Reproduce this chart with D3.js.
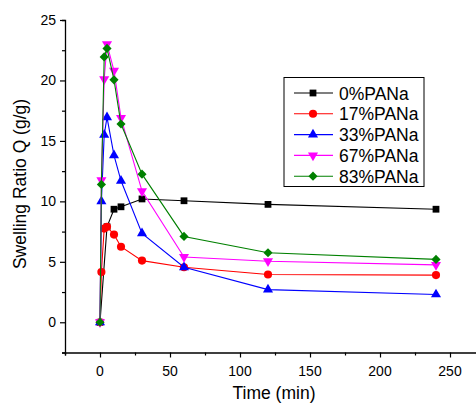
<!DOCTYPE html>
<html>
<head>
  <meta charset="utf-8">
  <title>Swelling Ratio</title>
  <script src="https://d3js.org/d3.v7.min.js"></script>
  <style>
    body { margin: 0; background: #fff; }
    svg { display: block; }
    text { font-family: "Liberation Sans", Arial, sans-serif; fill: #000; }
  </style>
</head>
<body>
  <div id="chart"></div>
  <script>
    // data
    var seriesNames = ["0%PANa", "17%PANa", "33%PANa", "67%PANa", "83%PANa"];
    var colors = ["#000000", "#ff0000", "#0000ff", "#ff00ff", "#008000"];

    var t0 = [0, 5, 10, 15, 30, 60, 120, 240];
    var q0 = [0, 7.9, 9.35, 9.55, 10.2, 10.05, 9.75, 9.35];

    var tAll = [0, 1, 3, 5, 10, 15, 30, 60, 120, 240];
    var q17 = [0, 4.15, 7.75, 7.9, 7.25, 6.25, 5.1, 4.55, 3.95, 3.9];
    var q33 = [0, 10.0, 15.5, 16.95, 13.8, 11.7, 7.35, 4.55, 2.7, 2.3];
    var q67 = [0, 11.75, 20.1, 23.0, 20.8, 16.9, 10.85, 5.4, 5.05, 4.75];
    var q83 = [0, 11.4, 21.95, 22.65, 20.05, 16.4, 12.25, 7.1, 5.75, 5.2];

    var xTicks = [0, 50, 100, 150, 200, 250];
    var yTicks = [0, 5, 10, 15, 20, 25];

    var series = [
      {name: seriesNames[0], t: t0, q: q0},
      {name: seriesNames[1], t: tAll, q: q17},
      {name: seriesNames[2], t: tAll, q: q33},
      {name: seriesNames[3], t: tAll, q: q67},
      {name: seriesNames[4], t: tAll, q: q83}
    ];

    var W = 476, H = 404;
    var svg = d3.select("#chart").append("svg")
      .attr("width", W).attr("height", H);

    var x = d3.scaleLinear().domain([-25, 285]).range([65, 499]);
    var y = d3.scaleLinear().domain([-2.5, 25]).range([352.5, 20]);

    // marker shapes per series
    var shapes = [
      {type: d3.symbolSquare, size: 46, rot: 0},
      {type: d3.symbolCircle, size: 52, rot: 0},
      {type: d3.symbolTriangle, size: 44, rot: 0},
      {type: d3.symbolTriangle, size: 44, rot: 180},
      {type: d3.symbolSquare, size: 42, rot: 45}
    ];
    function marker(i) {
      return d3.symbol().type(shapes[i].type).size(shapes[i].size)();
    }

    // axes
    var xAxis = svg.append("g").attr("transform", "translate(0," + y(-2.5) + ")");
    xAxis.call(d3.axisBottom(x).tickValues(d3.range(-25, 300, 25)).tickSize(3).tickFormat(""));
    xAxis.call(function(g) {
      g.selectAll(".tick line").attr("y2", function(d) { return d % 50 === 0 ? 5 : 3; });
    });
    xTicks.forEach(function(v) {
      xAxis.append("text").attr("x", x(v)).attr("y", 23)
        .attr("text-anchor", "middle").style("font-size", "14px").text(v);
    });

    var yAxis = svg.append("g").attr("transform", "translate(" + x(-25) + ",0)");
    yAxis.call(d3.axisLeft(y).tickValues(d3.range(-2.5, 25.1, 2.5)).tickSize(3).tickFormat(""));
    yAxis.call(function(g) {
      g.selectAll(".tick line").attr("x2", function(d) { return d % 5 === 0 ? -5 : -3; });
    });
    yTicks.forEach(function(v) {
      yAxis.append("text").attr("x", -9).attr("y", y(v) + 5)
        .attr("text-anchor", "end").style("font-size", "14px").text(v);
    });
    svg.selectAll(".domain").attr("stroke", "#000").attr("stroke-width", 1.3);
    svg.selectAll(".tick line").attr("stroke", "#000").attr("stroke-width", 1.2);

    // axis titles
    svg.append("text").attr("x", 274).attr("y", 399)
      .attr("text-anchor", "middle").style("font-size", "17.5px").text("Time (min)");
    svg.append("text")
      .attr("transform", "translate(26,184) rotate(-90)")
      .attr("text-anchor", "middle").style("font-size", "17.5px").text("Swelling Ratio Q (g/g)");

    // lines and markers
    var line = d3.line()
      .x(function(d) { return x(d[0]); })
      .y(function(d) { return y(d[1]); });

    series.forEach(function(s, i) {
      var pts = s.t.map(function(t, j) { return [t, s.q[j]]; });
      svg.append("path").datum(pts)
        .attr("d", line)
        .attr("fill", "none")
        .attr("stroke", colors[i])
        .attr("stroke-width", 1.1);
      svg.append("g").selectAll("path").data(pts).enter().append("path")
        .attr("d", marker(i))
        .attr("transform", function(d) {
          return "translate(" + x(d[0]) + "," + y(d[1]) + ") rotate(" + shapes[i].rot + ")";
        })
        .attr("fill", colors[i]);
    });

    // legend
    var lg = svg.append("g");
    lg.append("rect").attr("x", 284).attr("y", 77.5).attr("width", 140).attr("height", 109)
      .attr("fill", "#fff").attr("stroke", "#000").attr("stroke-width", 1);
    seriesNames.forEach(function(name, i) {
      var ry = 93 + i * 20.8;
      lg.append("line").attr("x1", 294).attr("x2", 333).attr("y1", ry).attr("y2", ry)
        .attr("stroke", colors[i]).attr("stroke-width", 1.1);
      lg.append("path").attr("d", marker(i))
        .attr("transform", "translate(313," + ry + ") rotate(" + shapes[i].rot + ")")
        .attr("fill", colors[i]);
      lg.append("text").attr("x", 339).attr("y", ry + 6.5)
        .style("font-size", "17.5px").text(name);
    });
  </script>
</body>
</html>
